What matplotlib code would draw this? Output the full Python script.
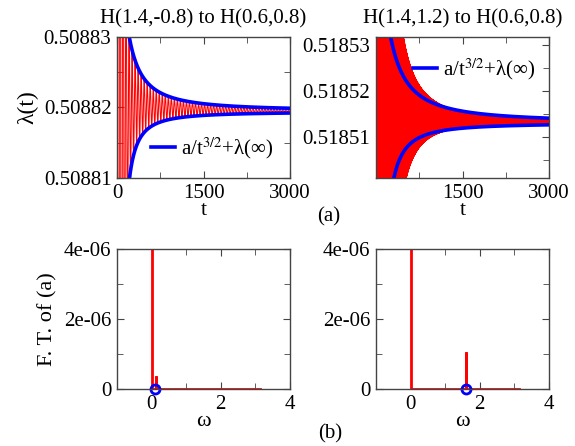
import numpy as np
import matplotlib
matplotlib.use("Agg")
import matplotlib.pyplot as plt
from matplotlib.ticker import MultipleLocator, FixedLocator, FuncFormatter, FormatStrFormatter

SERIF = ["Liberation Serif", "DejaVu Serif"]
plt.rcParams["font.family"] = SERIF
plt.rcParams["mathtext.fontset"] = "stix"

# ── fit parameters  a/(t+t0)^{3/2} + lambda(inf)  (upper / lower envelope) ──
FIT_A_LEFT = [0.0687, -0.030]
FIT_T0_LEFT = [137.0, 0.0]
FIT_LINF_LEFT = [0.5088195, 0.5088194]

FIT_A_RIGHT = [0.169, -0.065]
FIT_T0_RIGHT = [183.0, 0.0]
FIT_LINF_RIGHT = [0.5185132, 0.5185131]

# oscillation frequency (FT peak) and early-time amplitude c/t^2
OMEGA = [0.12, 1.60]
EARLY_C = [0.55, 3.8]

# ── Fourier transform of (a): peak positions / heights ──
FT_LEFT_W = [0.0, 0.0, 0.12, 0.12, 0.12, 3.14]
FT_LEFT_A = [6e-6, 0.0, 0.0, 0.38e-6, 0.0, 0.0]
FT_RIGHT_W = [0.0, 0.0, 1.60, 1.60, 1.60, 3.14]
FT_RIGHT_A = [6e-6, 0.0, 0.0, 1.05e-6, 0.0, 0.0]
MARK_W = [0.11, 1.60]

TITLES = ["H(1.4,-0.8) to H(0.6,0.8)", "H(1.4,1.2) to H(0.6,0.8)"]
FIT_LABEL = r"a/t$^{3/2}$+λ(∞)"

W, H = 575, 446
fig = plt.figure(figsize=(W / 100, H / 100), dpi=100)


def box(x0, y0, x1, y1):
    return [x0 / W, 1 - y1 / H, (x1 - x0) / W, (y1 - y0) / H]


ax1 = fig.add_axes(box(117, 37, 290, 178))
ax2 = fig.add_axes(box(376, 37, 549, 178))
ax3 = fig.add_axes(box(117, 249, 290, 389))
ax4 = fig.add_axes(box(376, 249, 549, 389))

SPINE = "#444444"
FS = 15


def style(ax):
    for s in ax.spines.values():
        s.set_color(SPINE)
        s.set_linewidth(1.0)
    ax.tick_params(which="both", direction="in", top=True, right=True,
                   color=SPINE, labelsize=FS, pad=4, labelfontfamily=SERIF[0])
    ax.tick_params(which="major", length=5)
    ax.tick_params(which="minor", length=4)


def envelope(t, a, t0, linf):
    return a / (t + t0) ** 1.5 + linf


def draw_top(ax, a, t0, linf, omega, c, dt, ylim, leg_xy):
    t = np.arange(1.0, 3000.0, dt)
    up = envelope(t, a[0], t0[0], linf[0])
    lo = envelope(t, a[1], t0[1], linf[1])
    mid = 0.5 * (up + lo)
    amp = np.maximum(0.5 * (up - lo), c / t ** 2)
    ax.plot(t, mid + amp * np.cos(omega * t), color="red", lw=0.75)
    ax.plot(t, up, color="blue", lw=2.6, label=FIT_LABEL)
    ax.plot(t, lo, color="blue", lw=2.6)
    ax.set_xlim(0, 3000)
    ax.set_ylim(*ylim)
    ax.yaxis.set_major_locator(MultipleLocator(1e-5))
    ax.yaxis.set_minor_locator(MultipleLocator(5e-6))
    ax.yaxis.set_major_formatter(FormatStrFormatter("%.5f"))
    ax.xaxis.set_minor_locator(FixedLocator([750, 2250]))
    ax.set_xlabel("t", fontsize=16, labelpad=-1)
    ax.legend(loc="center", bbox_to_anchor=leg_xy, frameon=False,
              fontsize=FS, handlelength=1.15, handletextpad=0.3,
              borderpad=0, borderaxespad=0)
    style(ax)


draw_top(ax1, FIT_A_LEFT, FIT_T0_LEFT, FIT_LINF_LEFT, OMEGA[0], EARLY_C[0],
         0.5, (0.50881, 0.50883), (0.55, 0.21))
ax1.set_xticks([0, 1500, 3000])
ax1.set_ylabel("λ(t)", fontsize=17, labelpad=4)

draw_top(ax2, FIT_A_RIGHT, FIT_T0_RIGHT, FIT_LINF_RIGHT, OMEGA[1], EARLY_C[1],
         0.1, (0.5185012, 0.5185317), (0.57, 0.77))
ax2.set_xticks([1500, 3000])


def draw_ft(ax, w, a, mark):
    ax.plot(w, a, color="red", lw=2.0, solid_joinstyle="miter")
    ax.plot([mark], [0], "o", ms=6.5, mfc="none", mec="blue", mew=2.0, clip_on=False)
    ax.set_xlim(-1, 4)
    ax.set_ylim(0, 4e-6)
    ax.set_xticks([0, 2, 4])
    ax.xaxis.set_minor_locator(FixedLocator([1, 3]))
    ax.set_yticks([0, 2e-6, 4e-6])
    ax.yaxis.set_minor_locator(FixedLocator([1e-6, 3e-6]))
    ax.yaxis.set_major_formatter(FuncFormatter(lambda v, p: "0" if v == 0 else f"{v:.0e}"))
    ax.set_xlabel("ω", fontsize=16, labelpad=-1)
    style(ax)


draw_ft(ax3, FT_LEFT_W, FT_LEFT_A, MARK_W[0])
ax3.set_ylabel("F. T. of (a)", fontsize=16, labelpad=5)
draw_ft(ax4, FT_RIGHT_W, FT_RIGHT_A, MARK_W[1])

fig.text(203 / W, 1 - 19 / H, TITLES[0], ha="center", va="center", fontsize=FS)
fig.text(463 / W, 1 - 19 / H, TITLES[1], ha="center", va="center", fontsize=FS)
fig.text(329 / W, 1 - 217 / H, "(a)", ha="center", va="center", fontsize=FS)
fig.text(330 / W, 1 - 434 / H, "(b)", ha="center", va="center", fontsize=FS)

fig.savefig("out.png", dpi=100, facecolor="white")
